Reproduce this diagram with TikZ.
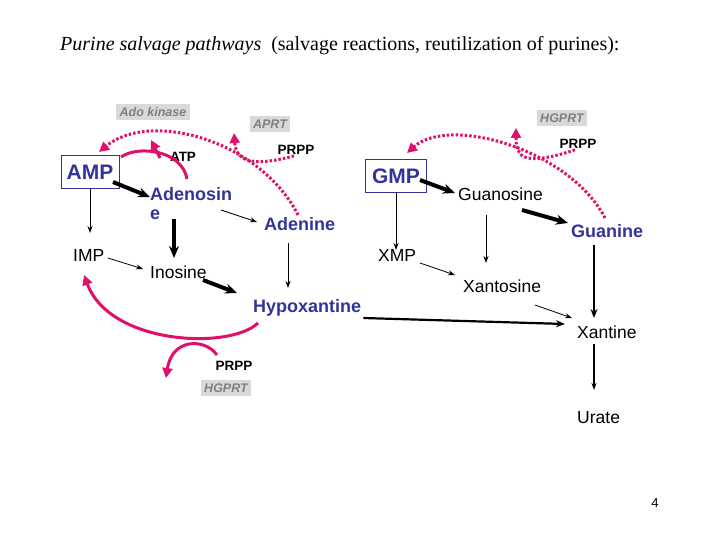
\documentclass[tikz,border=0pt]{standalone}
\usepackage{fontspec}
\setmainfont{Liberation Sans}
\newfontfamily\serf{Liberation Serif}
\usetikzlibrary{arrows.meta}
\definecolor{bl}{HTML}{333399}
\definecolor{pk}{HTML}{E0106A}
\definecolor{gb}{HTML}{D9D9D9}
\begin{document}
\begin{tikzpicture}[x=1pt,y=-1pt,
 lbl/.style={inner sep=0pt,anchor=west,font=\fontsize{17.5}{20}\selectfont},
 blu/.style={lbl,text=bl,font=\fontsize{18}{20}\selectfont\bfseries},
 enz/.style={fill=gb,text=gray,font=\fontsize{12.5}{13}\selectfont\itshape\bfseries,inner sep=3.5pt},
 prpp/.style={inner sep=0pt,font=\fontsize{13.5}{14}\selectfont\bfseries},
 box/.style={draw=bl,text=bl,font=\fontsize{21}{22}\selectfont\bfseries,inner sep=2pt,minimum height=33pt},
 thin/.style={-{Stealth[length=7pt,width=5pt]},line width=1pt},
 thick/.style={-{Stealth[length=12pt,width=10pt]},line width=4pt},
 med/.style={-{Stealth[length=9pt,width=7pt]},line width=2.2pt},
 dot/.style={pk,line width=3pt,dash pattern=on 2.5pt off 2pt,-{Triangle[length=10pt,width=10pt]}},
 sol/.style={pk,line width=3pt,-{Triangle[length=10pt,width=10pt]}}]
\useasboundingbox (0,0) rectangle (720,540);
\node[anchor=west,inner sep=0pt,font=\serf\fontsize{20}{22}\selectfont] (title) at (60,46) {\textit{Purine salvage pathways}\ \ (salvage reactions, reutilization of purines):};
\node[enz] (ado) at (153,112) {Ado kinase};
\node[enz] (aprt) at (270,124) {APRT};
\node[enz] (hg1) at (562,118) {HGPRT};
\node[enz] (hg2) at (226,388) {HGPRT};
\node[box,minimum width=58pt] (amp) at (90,172) {AMP};
\node[box,minimum width=61pt] (gmp) at (396,176) {GMP};
\node[prpp] (atp) at (183,157) {ATP};
\node[prpp] (p1) at (296,150) {PRPP};
\node[prpp] (p2) at (578,144) {PRPP};
\node[prpp] (p3) at (234,366) {PRPP};
\node[blu,align=left,font=\fontsize{18}{19}\selectfont\bfseries] (ados) at (150,204) {Adenosin\\e};
\node[blu] (aden) at (264,224) {Adenine};
\node[lbl] (guos) at (458,194) {Guanosine};
\node[blu] (guan) at (571,231) {Guanine};
\node[lbl] (imp) at (73,255) {IMP};
\node[lbl] (ino) at (150,272) {Inosine};
\node[lbl] (xmp) at (378,255) {XMP};
\node[lbl] (xaos) at (463,286) {Xantosine};
\node[blu] (hypo) at (253,308) {Hypoxantine};
\node[lbl] (xan) at (577,332) {Xantine};
\node[lbl] (ura) at (577,418) {Urate};
\node[inner sep=0pt,font=\fontsize{13}{14}\selectfont] (pg) at (655,503) {4};
% black arrows
\draw[thin] (amp.south -| 90,0) -- (90,233);
\draw[thick] (113,182) -- (150,197);
\draw[thick] (174,219) -- (174,258);
\draw[thin,line width=0.8pt] (221,210) -- (257,222);
\draw[thin,line width=0.8pt] (108,258) -- (143,269);
\draw[thick] (203,280) -- (237,293);
\draw[thin] (288,243) -- (288,288);
\draw[thin] (gmp.south) -- (396,250);
\draw[thick] (420,180) -- (455,193);
\draw[thin] (486,215) -- (486,263);
\draw[thick] (522,210) -- (568,223);
\draw[thin,line width=0.8pt] (420,263) -- (455,275);
\draw[med] (594,245) -- (594,318);
\draw[thin,line width=0.8pt] (535,305) -- (572,318);
\draw[med] (hypo.east) ++(2,10) -- (565,324);
\draw[thin,line width=1.5pt] (594,344) -- (594,390);
% pink
\draw[sol,-] (187,179) .. controls (182,150) and (138,145) .. (121,157);
\draw[sol] (160,158) -- (151,140);
\draw[dot] (298,215) .. controls (260,140) and (150,110) .. (99,152);
\draw[dot] (p1.south) ++(-2,1) .. controls (250,168) and (236,160) .. (234,133);
\draw[dot] (605,218) .. controls (570,150) and (450,115) .. (407,153);
\draw[dot] (p2.south) ++(-3,1) .. controls (520,168) and (516,155) .. (516,128);
\draw[sol] (258,323) .. controls (230,350) and (110,345) .. (84,275);
\draw[sol] (217,355) .. controls (205,338) and (172,338) .. (166,378);
\end{tikzpicture}
\end{document}
